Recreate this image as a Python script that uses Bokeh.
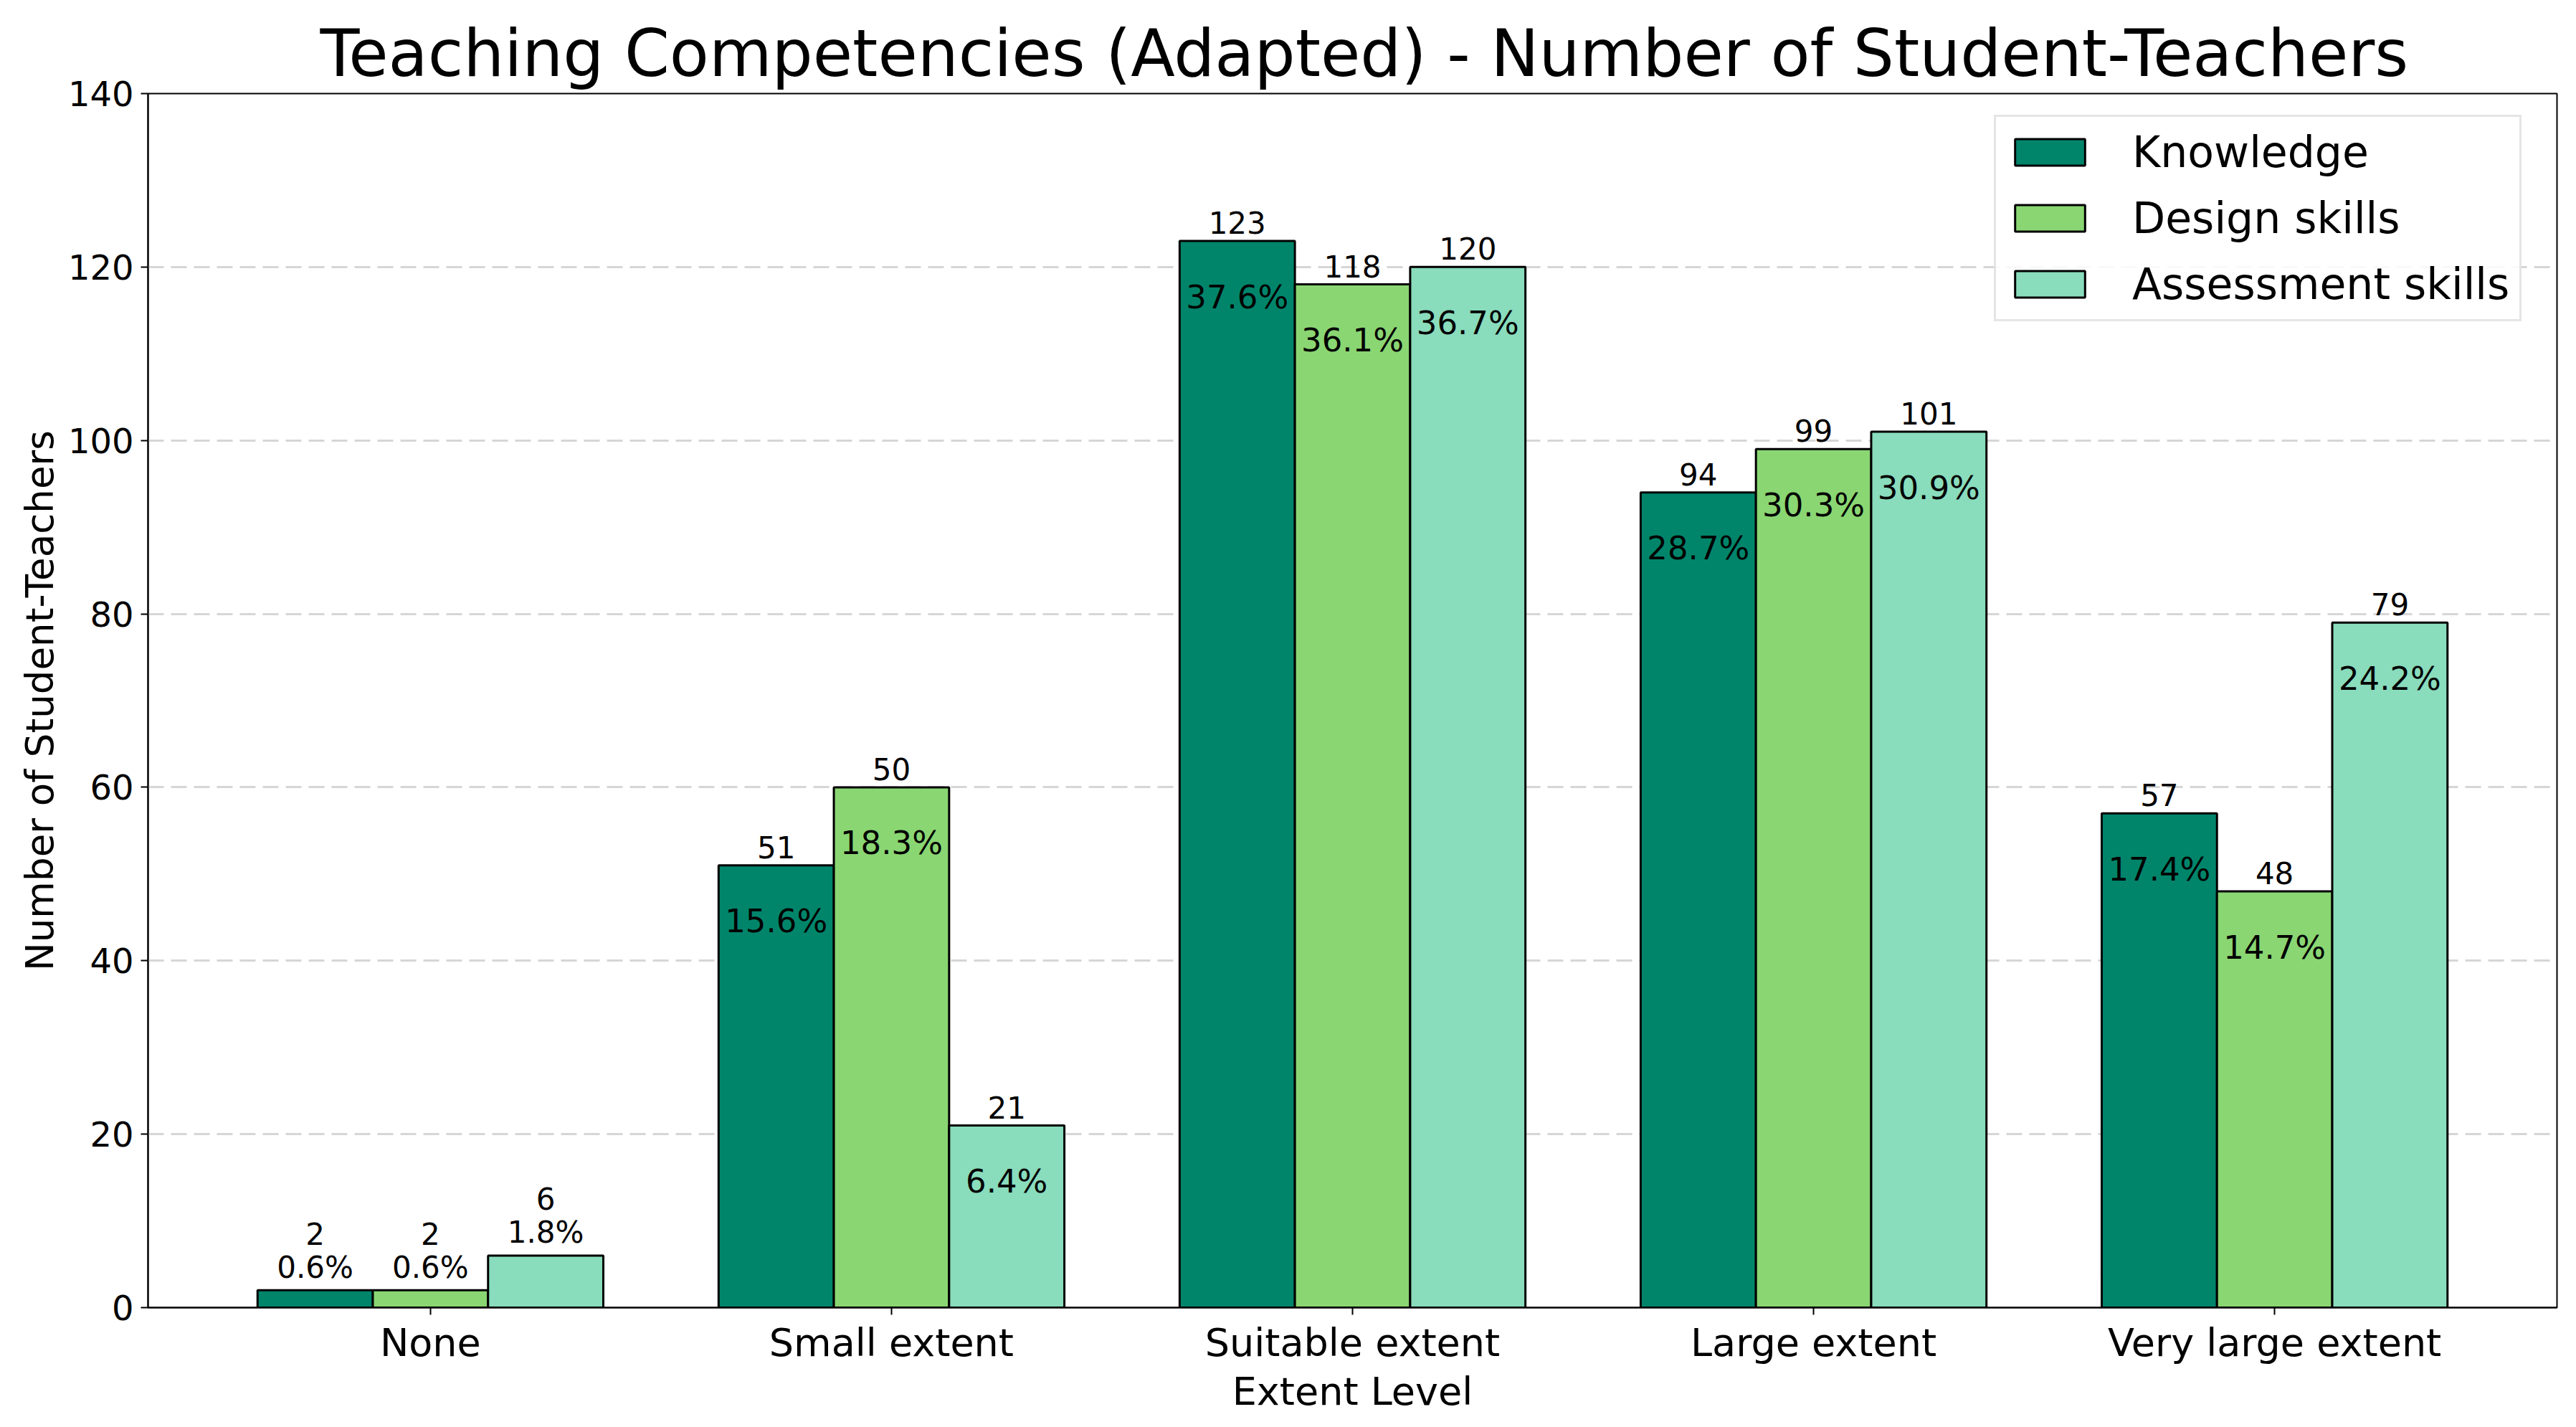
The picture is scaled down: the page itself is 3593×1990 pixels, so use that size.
from bokeh.plotting import figure
from bokeh.models import Range1d, FixedTicker, ColumnDataSource, Legend, LegendItem
from bokeh.transform import dodge
from bokeh.core.properties import value
from bokeh.embed import file_html
from bokeh.resources import INLINE

categories = ["None", "Small extent", "Suitable extent", "Large extent", "Very large extent"]
series = ["Knowledge", "Design skills", "Assessment skills"]
colors = ["#00856b", "#8ad673", "#89dcbc"]

knowledge = [2, 51, 123, 94, 57]
design = [2, 60, 118, 99, 48]
assessment = [6, 21, 120, 101, 79]

knowledge_labels = ["2", "51", "123", "94", "57"]
design_labels = ["2", "50", "118", "99", "48"]
assessment_labels = ["6", "21", "120", "101", "79"]

knowledge_pct = ["0.6%", "15.6%", "37.6%", "28.7%", "17.4%"]
design_pct = ["0.6%", "18.3%", "36.1%", "30.3%", "14.7%"]
assessment_pct = ["1.8%", "6.4%", "36.7%", "30.9%", "24.2%"]

y_ticks = [0, 20, 40, 60, 80, 100, 120, 140]

FONT = "DejaVu Sans"
W, H = 3570, 1974

p = figure(width=W, height=H, output_backend="svg", toolbar_location=None,
           x_range=Range1d(-0.6125, 4.6125), y_range=Range1d(0, 140),
           min_border_left=206, min_border_right=4, min_border_top=130,
           min_border_bottom=151)
p.background_fill_color = "white"
p.border_fill_color = "white"
p.outline_line_color = "black"
p.outline_line_width = 2

p.title.text = "Teaching Competencies (Adapted) - Number of Student-Teachers"
p.title.text_font = FONT
p.title.text_font_size = "90px"
p.title.text_font_style = "normal"
p.title.align = "left"
p.title.offset = 240
p.title.text_color = "black"
p.title.standoff = 8

p.xgrid.visible = False
p.ygrid.grid_line_color = "#cccccc"
p.ygrid.grid_line_alpha = 0.8
p.ygrid.grid_line_width = 3
p.ygrid.grid_line_dash = "22 10"
p.ygrid.ticker = FixedTicker(ticks=y_ticks)

p.yaxis.ticker = FixedTicker(ticks=y_ticks)
p.xaxis.ticker = FixedTicker(ticks=list(range(len(categories))))
p.xaxis.major_label_overrides = {i: c for i, c in enumerate(categories)}
p.xaxis.axis_label = "Extent Level"
p.yaxis.axis_label = "Number of Student-Teachers"

for ax in (p.xaxis[0], p.yaxis[0]):
    ax.axis_line_color = "black"
    ax.axis_line_width = 2
    ax.major_tick_line_color = "black"
    ax.major_tick_line_width = 2
    ax.major_tick_out = 10
    ax.major_tick_in = 0
    ax.minor_tick_line_color = None
    ax.major_label_text_font = FONT
    ax.major_label_text_color = "black"
    ax.axis_label_text_font = FONT
    ax.axis_label_text_font_style = "normal"
    ax.axis_label_text_color = "black"

p.xaxis.major_label_text_font_size = "54px"
p.yaxis.major_label_text_font_size = "48px"
p.xaxis.axis_label_text_font_size = "54px"
p.yaxis.axis_label_text_font_size = "53px"
p.xaxis.major_label_standoff = 7
p.yaxis.major_label_standoff = 10
p.xaxis.axis_label_standoff = 2
p.yaxis.axis_label_standoff = 6

values_all = [knowledge, design, assessment]
labels_all = [knowledge_labels, design_labels, assessment_labels]
pct_all = [knowledge_pct, design_pct, assessment_pct]
offsets = [-0.25, 0.0, 0.25]

legend_items = []
for s, col, vals, labs, pcts, off in zip(series, colors, values_all, labels_all, pct_all, offsets):
    src = ColumnDataSource(dict(xi=list(range(len(categories))), top=vals))
    r = p.vbar(x=dodge("xi", off), top="top", width=0.25, bottom=0, source=src,
               fill_color=col, line_color="black", line_width=3)
    legend_items.append(LegendItem(label=s, renderers=[r]))

    inside = [i for i, v in enumerate(vals) if v >= 10]
    outside = [i for i, v in enumerate(vals) if v < 10]

    src_in = ColumnDataSource(dict(xi=inside, top=[vals[i] for i in inside],
                                   lab=[labs[i] for i in inside],
                                   pct=[pcts[i] for i in inside]))
    p.text(x=dodge("xi", off), y="top", text="lab", source=src_in,
           text_font=value(FONT), text_font_size="42px", text_color="black",
           text_align="center", text_baseline="bottom", y_offset=-10)
    p.text(x=dodge("xi", off), y="top", text="pct", source=src_in,
           text_font=value(FONT), text_font_size="45px", text_color="black",
           text_align="center", text_baseline="middle", y_offset=78)

    src_out = ColumnDataSource(dict(xi=outside, top=[vals[i] for i in outside],
                                    lab=[labs[i] for i in outside],
                                    pct=[pcts[i] for i in outside]))
    p.text(x=dodge("xi", off), y="top", text="pct", source=src_out,
           text_font=value(FONT), text_font_size="42px", text_color="black",
           text_align="center", text_baseline="middle", y_offset=-32)
    p.text(x=dodge("xi", off), y="top", text="lab", source=src_out,
           text_font=value(FONT), text_font_size="42px", text_color="black",
           text_align="center", text_baseline="middle", y_offset=-79)

legend = Legend(items=legend_items, location=(2575, 1375))
legend.label_text_font = FONT
legend.label_text_font_size = "60px"
legend.label_text_color = "black"
legend.glyph_width = 122
legend.glyph_height = 46
legend.label_height = 46
legend.label_standoff = 54
legend.spacing = 22
legend.padding = 14
legend.margin = 0
legend.border_line_color = "#cccccc"
legend.border_line_width = 3
legend.background_fill_alpha = 0.85
p.add_layout(legend)

open("out.html", "w").write(file_html(p, INLINE))
